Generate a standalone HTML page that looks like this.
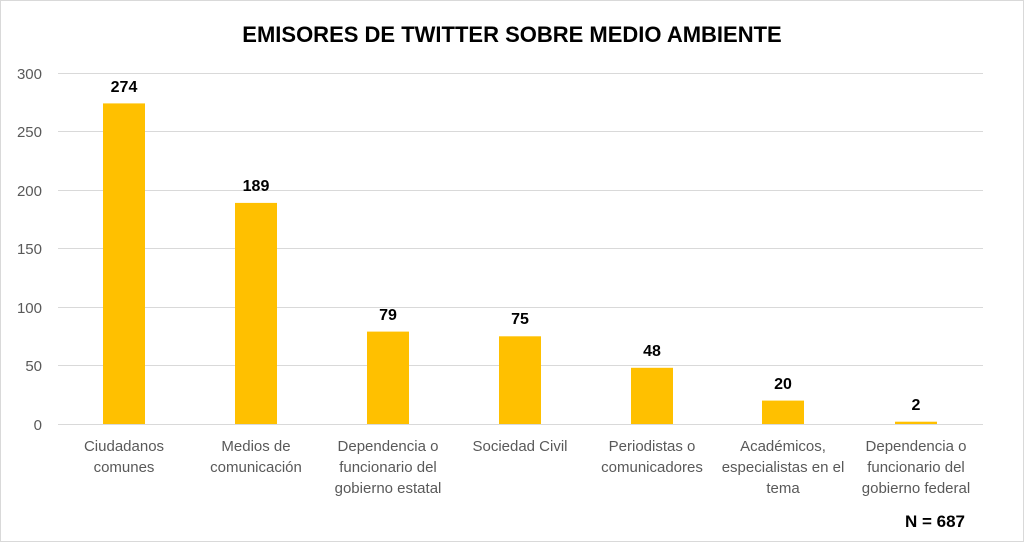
<!DOCTYPE html>
<html><head><meta charset="utf-8"><style>
html,body{margin:0;padding:0;background:#fff;}
svg{display:block;}
text{font-family:"Liberation Sans",Arial,sans-serif;}
</style></head><body>
<svg width="1024" height="542" viewBox="0 0 1024 542">
<rect x="0.5" y="0.5" width="1023" height="541" fill="#fff" stroke="#d9d9d9"/>
<text x="512" y="42" text-anchor="middle" font-size="22" font-weight="bold" fill="#000">EMISORES DE TWITTER SOBRE MEDIO AMBIENTE</text>
<g stroke="#d9d9d9" stroke-width="1">
<line x1="58" x2="983" y1="73.5" y2="73.5"/>
<line x1="58" x2="983" y1="131.5" y2="131.5"/>
<line x1="58" x2="983" y1="190.5" y2="190.5"/>
<line x1="58" x2="983" y1="248.5" y2="248.5"/>
<line x1="58" x2="983" y1="307.5" y2="307.5"/>
<line x1="58" x2="983" y1="365.5" y2="365.5"/>
<line x1="58" x2="983" y1="424.5" y2="424.5"/>
</g>
<g font-size="15" fill="#595959" text-anchor="end">
<text x="42" y="79">300</text><text x="42" y="137">250</text><text x="42" y="196">200</text>
<text x="42" y="254">150</text><text x="42" y="313">100</text><text x="42" y="371">50</text><text x="42" y="430">0</text>
</g>
<g fill="#ffc000">
<rect x="103" y="103.4" width="42" height="320.6"/>
<rect x="235" y="202.9" width="42" height="221.1"/>
<rect x="367" y="331.6" width="42" height="92.4"/>
<rect x="499" y="336.3" width="42" height="87.7"/>
<rect x="631" y="367.8" width="42" height="56.2"/>
<rect x="762" y="400.6" width="42" height="23.4"/>
<rect x="895" y="421.7" width="42" height="2.3"/>
</g>
<g font-size="16" font-weight="bold" fill="#000" text-anchor="middle">
<text x="124" y="92">274</text><text x="256" y="191">189</text><text x="388" y="320">79</text>
<text x="520" y="324">75</text><text x="652" y="356">48</text><text x="783" y="389">20</text><text x="916" y="410">2</text>
</g>
<g font-size="15" fill="#595959" text-anchor="middle">
<text x="124" y="451">Ciudadanos</text><text x="124" y="472">comunes</text>
<text x="256" y="451">Medios de</text><text x="256" y="472">comunicación</text>
<text x="388" y="451">Dependencia o</text><text x="388" y="472">funcionario del</text><text x="388" y="493">gobierno estatal</text>
<text x="520" y="451">Sociedad Civil</text>
<text x="652" y="451">Periodistas o</text><text x="652" y="472">comunicadores</text>
<text x="783" y="451">Académicos,</text><text x="783" y="472">especialistas en el</text><text x="783" y="493">tema</text>
<text x="916" y="451">Dependencia o</text><text x="916" y="472">funcionario del</text><text x="916" y="493">gobierno federal</text>
</g>
<text x="965" y="527" text-anchor="end" font-size="17" font-weight="bold" fill="#000">N = 687</text>
</svg>
</body></html>
